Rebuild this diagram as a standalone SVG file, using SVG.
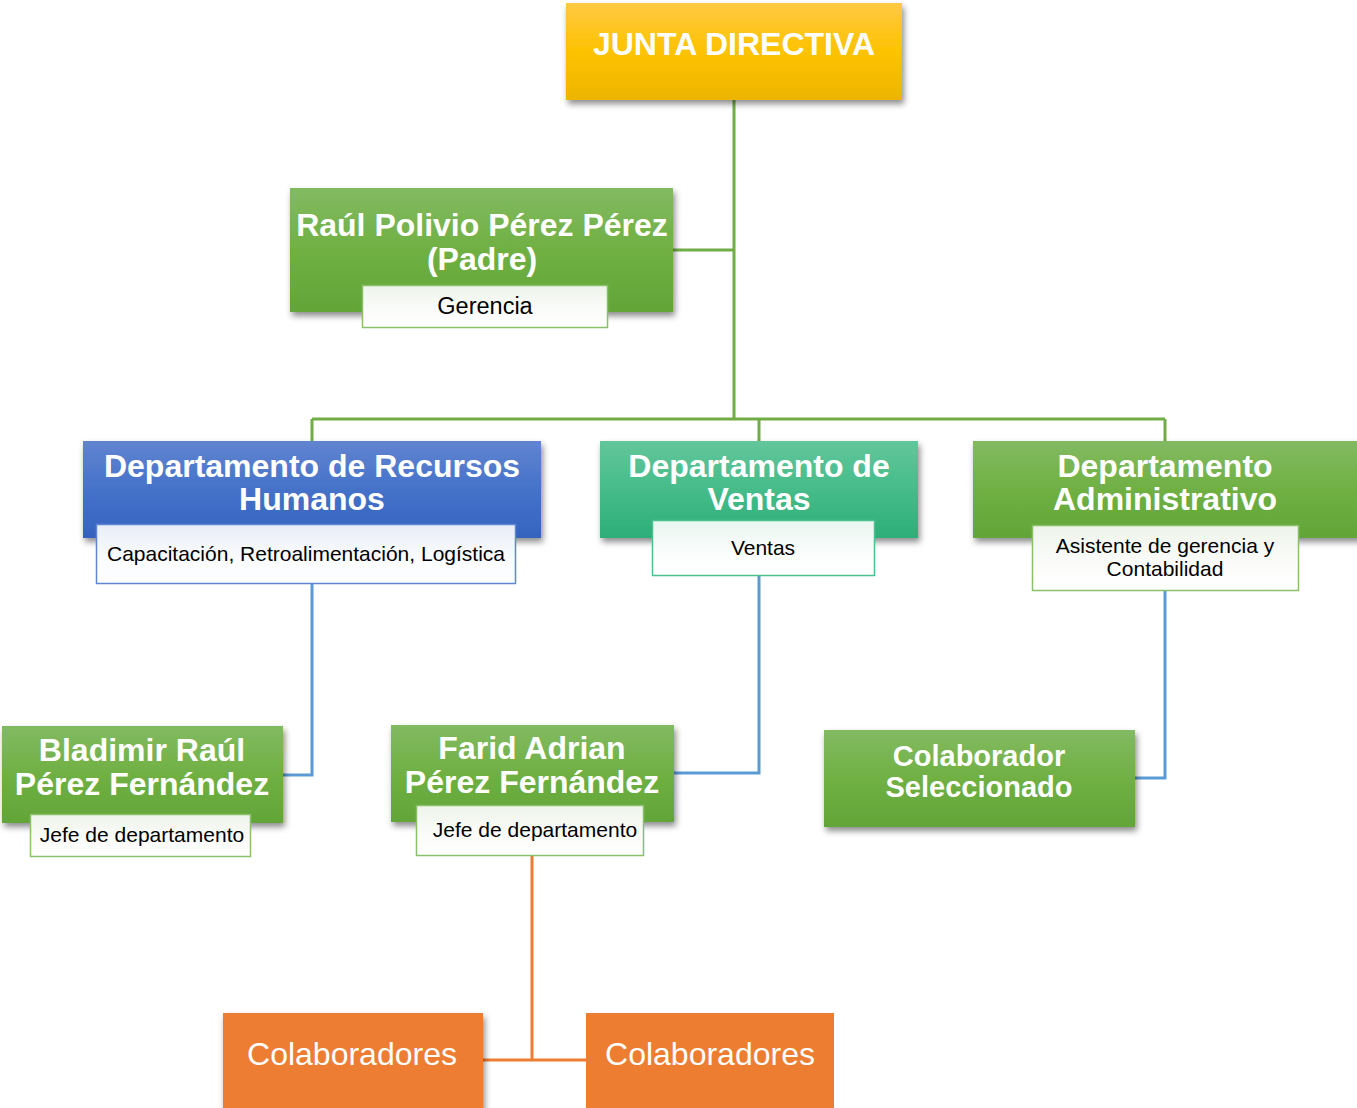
<svg xmlns="http://www.w3.org/2000/svg" width="1357" height="1108" viewBox="0 0 1357 1108">
<defs>
<linearGradient id="gY" x1="0" y1="0" x2="0" y2="1"><stop offset="0" stop-color="#FFC945"/><stop offset="0.5" stop-color="#FDC200"/><stop offset="1" stop-color="#EDB500"/></linearGradient>
<linearGradient id="gG" x1="0" y1="0" x2="0" y2="1"><stop offset="0" stop-color="#82BA62"/><stop offset="0.5" stop-color="#70B043"/><stop offset="1" stop-color="#62A538"/></linearGradient>
<linearGradient id="gB" x1="0" y1="0" x2="0" y2="1"><stop offset="0" stop-color="#6184D0"/><stop offset="0.5" stop-color="#4572C9"/><stop offset="1" stop-color="#3563BF"/></linearGradient>
<linearGradient id="gT" x1="0" y1="0" x2="0" y2="1"><stop offset="0" stop-color="#63C69B"/><stop offset="0.5" stop-color="#45BC8A"/><stop offset="1" stop-color="#2EAE78"/></linearGradient>
<linearGradient id="gSubG" x1="0" y1="0" x2="0" y2="1"><stop offset="0" stop-color="#EEF4EA"/><stop offset="0.6" stop-color="#FBFCFA"/><stop offset="1" stop-color="#FFFFFF"/></linearGradient>
<linearGradient id="gSubB" x1="0" y1="0" x2="0" y2="1"><stop offset="0" stop-color="#E8EDF7"/><stop offset="0.6" stop-color="#FBFCFE"/><stop offset="1" stop-color="#FFFFFF"/></linearGradient>
<linearGradient id="gSubT" x1="0" y1="0" x2="0" y2="1"><stop offset="0" stop-color="#E9F6F0"/><stop offset="0.6" stop-color="#FBFDFC"/><stop offset="1" stop-color="#FFFFFF"/></linearGradient>
<filter id="sh" x="-10%" y="-10%" width="125%" height="135%"><feDropShadow dx="2" dy="4" stdDeviation="3" flood-color="#000" flood-opacity="0.45"/></filter>
</defs>
<style>
.t{font-family:"Liberation Sans",Arial,sans-serif;fill:#fff;font-weight:bold;text-anchor:middle;font-size:32px}
.s{font-family:"Liberation Sans",Arial,sans-serif;fill:#000;text-anchor:middle;font-size:21px}
.o{font-family:"Liberation Sans",Arial,sans-serif;fill:#fff;text-anchor:middle;font-size:32px}
.cg{stroke:#70AD47;stroke-width:3;fill:none}
.cb{stroke:#5B9BD5;stroke-width:3;fill:none}
.co{stroke:#ED7D31;stroke-width:3;fill:none}
</style>
<rect width="1357" height="1108" fill="#fff"/>
<g id="connectors">
<path class="cg" d="M734 100 V419 M673 250 H734 M312 419 H1165 M312 419 V441 M759 419 V441 M1165 419 V441"/>
<path class="cb" d="M312 584 V775 H283 M759 576 V773 H674 M1165 591 V778 H1135"/>
<path class="co" d="M532 856 V1060 M483 1060 H586"/>
</g>
<g id="junta">
<rect x="566" y="3" width="336" height="97" fill="url(#gY)" filter="url(#sh)"/>
<text class="t" x="734" y="55">JUNTA DIRECTIVA</text>
</g>
<g id="raul">
<rect x="290" y="188" width="383" height="124" fill="url(#gG)" filter="url(#sh)"/>
<text class="t" x="482" y="236">Raúl Polivio Pérez Pérez</text>
<text class="t" x="482" y="270">(Padre)</text>
<rect x="362.5" y="285.5" width="245" height="42" fill="url(#gSubG)" stroke="#8BC06A" stroke-width="1.5"/>
<text class="s" x="485" y="314" style="font-size:23.5px">Gerencia</text>
</g>
<g id="rrhh">
<rect x="83" y="441" width="458" height="97" fill="url(#gB)" filter="url(#sh)"/>
<text class="t" x="312" y="477">Departamento de Recursos</text>
<text class="t" x="312" y="510">Humanos</text>
<rect x="96.5" y="524.5" width="419" height="59" fill="url(#gSubB)" stroke="#5F86D2" stroke-width="1.5"/>
<text class="s" x="306" y="561">Capacitación, Retroalimentación, Logística</text>
</g>
<g id="ventas">
<rect x="600" y="441" width="318" height="97" fill="url(#gT)" filter="url(#sh)"/>
<text class="t" x="759" y="477">Departamento de</text>
<text class="t" x="759" y="510">Ventas</text>
<rect x="652.5" y="520.5" width="222" height="55" fill="url(#gSubT)" stroke="#4DC08F" stroke-width="1.5"/>
<text class="s" x="763" y="555">Ventas</text>
</g>
<g id="admin">
<rect x="973" y="441" width="390" height="97" fill="url(#gG)" filter="url(#sh)"/>
<text class="t" x="1165" y="477">Departamento</text>
<text class="t" x="1165" y="510">Administrativo</text>
<rect x="1032.5" y="525.5" width="266" height="65" fill="url(#gSubG)" stroke="#8BC06A" stroke-width="1.5"/>
<text class="s" x="1165" y="553">Asistente de gerencia y</text>
<text class="s" x="1165" y="576">Contabilidad</text>
</g>
<g id="bladimir">
<rect x="2" y="726" width="281" height="97" fill="url(#gG)" filter="url(#sh)"/>
<text class="t" x="142" y="761">Bladimir Raúl</text>
<text class="t" x="142" y="795">Pérez Fernández</text>
<rect x="30.5" y="814.5" width="220" height="42" fill="url(#gSubG)" stroke="#8BC06A" stroke-width="1.5"/>
<text class="s" x="142" y="842">Jefe de departamento</text>
</g>
<g id="farid">
<rect x="391" y="725" width="283" height="97" fill="url(#gG)" filter="url(#sh)"/>
<text class="t" x="532" y="759">Farid Adrian</text>
<text class="t" x="532" y="793">Pérez Fernández</text>
<rect x="416.5" y="805.5" width="227" height="50" fill="url(#gSubG)" stroke="#8BC06A" stroke-width="1.5"/>
<text class="s" x="535" y="837">Jefe de departamento</text>
</g>
<g id="colaborador">
<rect x="824" y="730" width="311" height="97" fill="url(#gG)" filter="url(#sh)"/>
<text class="t" x="979" y="766" style="font-size:29px">Colaborador</text>
<text class="t" x="979" y="797" style="font-size:29px">Seleccionado</text>
</g>
<g id="colab1">
<rect x="223" y="1013" width="260" height="100" fill="#ED7D31" filter="url(#sh)"/>
<text class="o" x="352" y="1065">Colaboradores</text>
</g>
<g id="colab2">
<rect x="586" y="1013" width="248" height="100" fill="#ED7D31"/>
<text class="o" x="710" y="1065">Colaboradores</text>
</g>
</svg>
